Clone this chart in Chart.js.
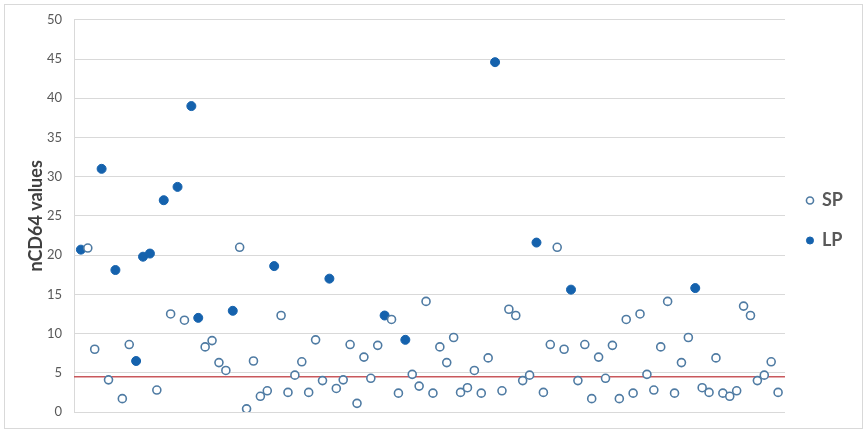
<!DOCTYPE html>
<html>
<head>
<meta charset="utf-8">
<script src="https://cdn.jsdelivr.net/npm/chart.js@4/dist/chart.umd.min.js"></script>
<style>
  html, body { margin: 0; padding: 0; background: #fff; }
  #wrap { position: relative; width: 866px; height: 432px; }
  #frame { position: absolute; left: 4px; top: 4px; width: 857px; height: 423px; border: 1px solid #d9d9d9; }
  canvas { position: absolute; left: 0; top: 0; }
</style>
</head>
<body>
<div id="wrap">
  <div id="frame"></div>
  <canvas id="chart" width="866" height="432"></canvas>
</div>
<script>
"use strict";

// one value per patient, in the order they appear left to right
const groups = [
  'LP','SP','SP','LP','SP','LP','SP','SP','LP','LP',
  'LP','SP','LP','SP','LP','SP','LP','LP','SP','SP',
  'SP','SP','LP','SP','SP','SP','SP','SP','LP','SP',
  'SP','SP','SP','SP','SP','SP','LP','SP','SP','SP',
  'SP','SP','SP','SP','LP','SP','SP','LP','SP','SP',
  'SP','SP','SP','SP','SP','SP','SP','SP','SP','SP',
  'LP','SP','SP','SP','SP','SP','LP','SP','SP','SP',
  'SP','LP','SP','SP','SP','SP','SP','SP','SP','SP',
  'SP','SP','SP','SP','SP','SP','SP','SP','SP','LP',
  'SP','SP','SP','SP','SP','SP','SP','SP','SP','SP',
  'SP','SP'
];
const nCD64 = [
  20.7, 20.9, 8.0, 31.0, 4.1, 18.1, 1.7, 8.6, 6.5, 19.8,
  20.2, 2.8, 27.0, 12.5, 28.7, 11.7, 39.0, 12.0, 8.3, 9.1,
  6.3, 5.3, 12.9, 21.0, 0.4, 6.5, 2.0, 2.7, 18.6, 12.3,
  2.5, 4.7, 6.4, 2.5, 9.2, 4.0, 17.0, 3.0, 4.1, 8.6,
  1.1, 7.0, 4.3, 8.5, 12.3, 11.8, 2.4, 9.2, 4.8, 3.3,
  14.1, 2.4, 8.3, 6.3, 9.5, 2.5, 3.1, 5.3, 2.4, 6.9,
  44.6, 2.7, 13.1, 12.3, 4.0, 4.7, 21.6, 2.5, 8.6, 21.0,
  8.0, 15.6, 4.0, 8.6, 1.7, 7.0, 4.3, 8.5, 1.7, 11.8,
  2.4, 12.5, 4.8, 2.8, 8.3, 14.1, 2.4, 6.3, 9.5, 15.8,
  3.1, 2.5, 6.9, 2.4, 2.0, 2.7, 13.5, 12.3, 4.0, 4.7,
  6.4, 2.5
];
const cutoff = 4.5;
const yTicks = [0, 5, 10, 15, 20, 25, 30, 35, 40, 45, 50];

const pick = g => nCD64.map((v, i) => ({x: i, y: v})).filter((p, i) => groups[i] === g);
const lastX = nCD64.length - 1;

const font = "Lato, 'Open Sans', sans-serif";

new Chart(document.getElementById('chart').getContext('2d'), {
  type: 'scatter',
  data: {
    datasets: [
      {
        label: 'SP',
        data: pick('SP'),
        backgroundColor: '#ffffff',
        borderColor: '#4f7ba3',
        borderWidth: 1.6,
        pointRadius: 4,
        order: 1,
      },
      {
        label: 'LP',
        data: pick('LP'),
        backgroundColor: '#1562ad',
        borderColor: '#1562ad',
        borderWidth: 1,
        pointRadius: 4.5,
        order: 2,
      },
      {
        type: 'line',
        label: 'cutoff',
        data: [{x: -1, y: cutoff}, {x: lastX + 1, y: cutoff}],
        borderColor: '#c9585c',
        borderWidth: 1.5,
        pointRadius: 0,
        order: 10,
      },
    ],
  },
  options: {
    responsive: false,
    animation: false,
    layout: {padding: {left: 25, top: 14, right: 13, bottom: 20}},
    plugins: {
      tooltip: {enabled: false},
      legend: {
        position: 'right',
        // empty title only pushes the two entries down a little
        title: {display: true, text: '', padding: 0, font: {size: 12.5}},
        labels: {
          filter: item => item.text !== 'cutoff',
          usePointStyle: true,
          pointStyle: 'circle',
          boxWidth: 6,
          boxHeight: 5,
          padding: 22,
          color: '#595959',
          font: {family: font, size: 18, weight: 'bold'},
        },
      },
    },
    scales: {
      x: {
        type: 'linear',
        display: false,
        min: -1,
        max: lastX + 1,
      },
      y: {
        min: 0,
        max: 50,
        afterFit: scale => { scale.width = 49; },
        afterBuildTicks: scale => { scale.ticks = yTicks.map(v => ({value: v})); },
        grid: {color: '#d9d9d9', drawTicks: false},
        border: {color: '#d9d9d9'},
        ticks: {
          padding: 12,
          color: '#595959',
          font: {family: font, size: 13},
        },
        title: {
          display: true,
          text: 'nCD64 values',
          color: '#404040',
          padding: {top: 0, bottom: 0},
          font: {family: font, size: 18, weight: 'bold'},
        },
      },
    },
  },
});
</script>
</body>
</html>
